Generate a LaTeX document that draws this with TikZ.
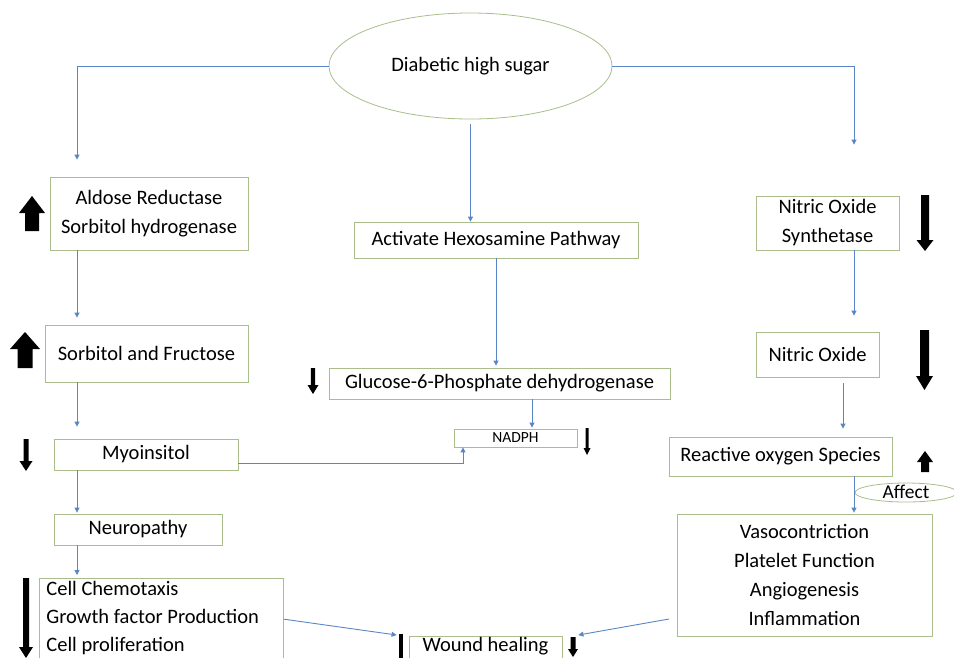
\documentclass[tikz,border=0pt]{standalone}
\usepackage{fontspec}
\setmainfont{Carlito}
\usetikzlibrary{arrows.meta,shapes.geometric}
\definecolor{lineblue}{HTML}{5B86C5}
\definecolor{boxgreen}{HTML}{A9BE8C}
% x, y of tail, y of head base, y of tip, half shaft width, half head width
\newcommand\fatarr[6]{\fill[black] ({#1-#5},#2) -- ({#1+#5},#2) -- ({#1+#5},#3) -- ({#1+#6},#3) -- (#1,#4) -- ({#1-#6},#3) -- ({#1-#5},#3) -- cycle;}
\begin{document}
\begin{tikzpicture}[x=1pt,y=-1pt,
  font=\fontsize{20.5}{29}\selectfont,
  box/.style={draw=boxgreen, line width=0.8pt, rectangle, inner sep=0pt, align=center},
  oval/.style={draw=boxgreen, line width=0.8pt, ellipse, inner sep=0pt},
  conn/.style={draw=lineblue, line width=0.9pt, -{Triangle[width=5pt,length=5pt]}}]
\useasboundingbox (0,0) rectangle (954,657);
\clip (0,0) rectangle (954,657);

% nodes
\node[oval, minimum width=283, minimum height=106] (dm) at (470.5,66) {Diabetic high sugar};
\node[box, minimum width=198, minimum height=73] (ald) at (149,213.5) {Aldose Reductase\\Sorbitol hydrogenase};
\node[box, minimum width=284, minimum height=36] (hex) at (496,240) {Activate Hexosamine Pathway};
\node[box, minimum width=143, minimum height=54] (nos) at (827.5,223) {Nitric Oxide\\Synthetase};
\node[box, minimum width=203, minimum height=57] (sf) at (146.5,353.5) {Sorbitol and Fructose};
\node[box, minimum width=341, minimum height=31] (g6) at (499.5,383.5) {Glucose-6-Phosphate dehydrogenase};
\node[box, minimum width=123, minimum height=45] (no) at (817.5,354.5) {Nitric Oxide};
\node[box, minimum width=184, minimum height=31] (myo) at (146,454.5) {Myoinsitol};
\node[box, minimum width=123, minimum height=18, font=\fontsize{15.5}{18}\selectfont] (nad) at (515.5,438) {NADPH};
\node[box, minimum width=223, minimum height=39] (ros) at (780.5,456.5) {Reactive oxygen Species};
\node[box, minimum width=168, minimum height=31] (neu) at (138,529.5) {Neuropathy};
\node[oval, minimum width=102, minimum height=19, font=\fontsize{19.5}{22}\selectfont] (aff) at (906,492.5) {\smash{\raisebox{-6.3pt}{Affect}}};
\node[box, minimum width=255, minimum height=122] (vaso) at (804.5,575) {Vasocontriction\\Platelet Function\\Angiogenesis\\Inflammation};
\node[box, anchor=north west, text width=230, align=flush left, inner xsep=7, inner ysep=3, font=\fontsize{20.5}{28}\selectfont] (cell) at (39,578) {Cell Chemotaxis\\Growth factor Production\\Cell proliferation};
\node[box, anchor=north, minimum width=153, inner ysep=3, text height=12.5, text depth=15] (wh) at (485.5,636) {Wound healing};

% column coordinates
\coordinate (cL) at (77,0);
\coordinate (cR) at (854,0);
\coordinate (cR3) at (843,0);
\coordinate (cN) at (463,0);
\coordinate (cG) at (532,0);
\coordinate (vL) at (669,619);

% connectors
\draw[conn, shorten >=17] (dm.west) -| (ald.north -| cL);
\draw[conn, shorten <=5] (dm.south) -- (dm.south |- hex.north);
\draw[conn, shorten >=51] (dm.east) -| (nos.north -| cR);
\draw[conn, shorten >=7] (ald.south -| cL) -- (sf.north -| cL);
\draw[conn, shorten >=12] (sf.south -| cL) -- (myo.north -| cL);
\draw[conn, shorten >=1] (myo.south -| cL) -- (neu.north -| cL);
\draw[conn, shorten >=3] (neu.south -| cL) -- (cell.north -| cL);
\draw[conn] ([yshift=-8.5]myo.east) -| (nad.south -| cN);
\draw[conn, shorten >=2] (hex.south) -- (hex.south |- g6.north);
\draw[conn, shorten >=1] (g6.south -| cG) -- (nad.north -| cG);
\draw[conn, shorten >=16] (nos.south -| cR) -- (no.north -| cR);
\draw[conn, shorten <=6, shorten >=8] (no.south -| cR3) -- (ros.north -| cR3);
\draw[conn, shorten >=1] (ros.south -| cR) -- (vaso.north -| cR);
\draw[conn] ([yshift=-1]cell.east) -- ([xshift=-12,yshift=1]wh.north west);
\draw[conn] (vL) -- ([xshift=16,yshift=1]wh.north east);

% up / down indicator arrows
\fatarr{32}{231}{213}{196}{7}{13}
\fatarr{25}{368}{349}{332}{7.5}{15}
\fatarr{26}{439}{461}{471}{2.5}{6.5}
\fatarr{26}{578}{647}{658}{3}{7}
\fatarr{313}{368}{385}{394}{2.2}{5.5}
\fatarr{587}{428}{448}{455}{1.5}{3.5}
\fatarr{925}{195}{240}{251}{4}{8.5}
\fatarr{924.5}{330}{376}{390}{4.5}{8.5}
\fatarr{925}{472}{462}{451}{4}{8}
\fatarr{573}{637}{649}{657}{2.5}{5}
\fill[black] (399,634) rectangle (403,662);
\end{tikzpicture}
\end{document}
